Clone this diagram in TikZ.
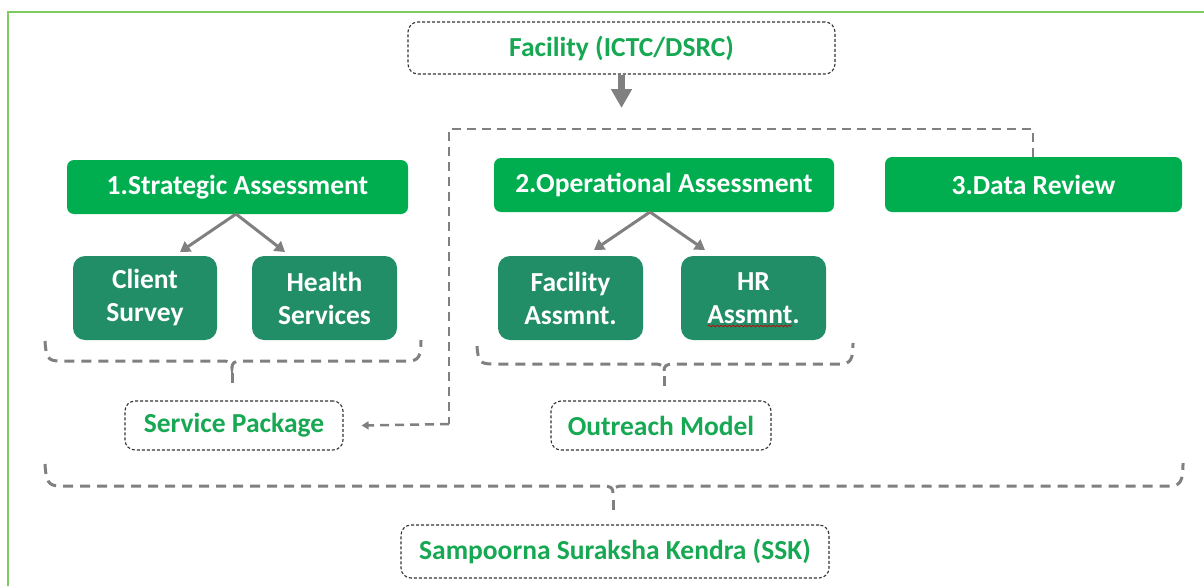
\documentclass[tikz,border=0pt]{standalone}
\usepackage{fontspec}
\setmainfont{Carlito}
\usetikzlibrary{arrows.meta,decorations.pathmorphing}
\definecolor{frameg}{RGB}{125,203,95}
\definecolor{boxg}{RGB}{0,174,80}
\definecolor{darkg}{RGB}{34,142,104}
\definecolor{txtg}{RGB}{22,168,82}
\definecolor{conn}{RGB}{128,128,128}
\tikzset{
  txt/.style={font=\fontsize{27.5}{33}\selectfont\bfseries, align=center, inner sep=0pt},
  mainbox/.style={txt, fill=boxg, text=white, rounded corners=7pt},
  subbox/.style={txt, fill=darkg, text=white, rounded corners=12pt},
  outbox/.style={txt, draw=black!80, line width=1.1pt, dash pattern=on 3pt off 2pt, rounded corners=10pt, text=txtg},
  dline/.style={draw=conn, line width=3pt, dash pattern=on 10pt off 7pt},
  dloop/.style={draw=conn, line width=2.5pt, dash pattern=on 9pt off 6pt},
  solidarrow/.style={draw=conn, line width=3pt, -{Triangle[width=12pt,length=10pt]}},
}
\begin{document}
\begin{tikzpicture}[x=1pt,y=-1pt]
\useasboundingbox (0,0) rectangle (1204,586);
% frame
\draw[frameg, line width=2pt] (8,586) -- (8,12) -- (1204,12);

% nodes
\node[outbox, minimum width=427pt, minimum height=52pt] (fac) at (621.5,48) {Facility (ICTC/DSRC)};
\node[mainbox, minimum width=341pt, minimum height=54pt] (strat) at (237.5,187) {1.Strategic Assessment};
\node[mainbox, minimum width=340pt, minimum height=54pt] (oper) at (664,185) {2.Operational Assessment};
\node[mainbox, minimum width=297pt, minimum height=55pt] (data) at (1033.5,184.5) {3.Data Review};
\node[subbox, minimum width=144pt, minimum height=84pt] (cs) at (145,298) {Client\\Survey};
\node[subbox, minimum width=145pt, minimum height=84pt] (hs) at (324.5,298) {Health\\Services};
\node[subbox, minimum width=145pt, minimum height=84pt] (fa) at (570.5,298) {Facility\\Assmnt.};
\node[subbox, minimum width=145pt, minimum height=84pt] (hr) at (753.5,298) {HR\\Assmnt.};
\node[outbox, minimum width=218pt, minimum height=49pt] (sp) at (234,425.5) {Service Package};
\node[outbox, minimum width=220pt, minimum height=49pt] (om) at (661,425.5) {Outreach Model};
\node[outbox, minimum width=428pt, minimum height=53pt] (ssk) at (615,551.5) {Sampoorna Suraksha Kendra (SSK)};

% spell-check squiggle
\draw[red!80!black, line width=0.7pt, decorate, decoration={snake, segment length=4pt, amplitude=0.9pt}] (708,326) -- (792,326);

% thick arrow
\coordinate (fa1) at (621.5,108);
\draw[conn, line width=7pt, -{Triangle[width=20pt,length=19pt]}] (fac.south) -- (fa1);

% small arrows
\coordinate (s0) at (236,214);
\coordinate (o0) at (650,212);
\draw[solidarrow] (s0) -- (180,252);
\draw[solidarrow] (s0) -- (285,252);
\draw[solidarrow] (o0) -- (594,250);
\draw[solidarrow] (o0) -- (705,250);

% dashed loop from data review to service package
\coordinate (c1) at (1033,129);
\coordinate (c2) at (449,129);
\coordinate (c3) at (449,424);
\draw[dloop] (data.north -| c1) -- (c1) -- (c2) -- (c3);
\draw[dloop, -{Triangle[width=8pt,length=7pt]}] (c3) -- ([xshift=18pt]sp.east);

% brackets
\draw[dline] (45,341) .. controls (46,358) and (48,361) .. (60,361) -- (222,361)
  .. controls (230,361) and (232,363) .. (232,368) .. controls (232,363) and (234,361) .. (242,361)
  -- (408,361) .. controls (419,361) and (421,356) .. (421,340);
\draw[dline] (232,373) -- (232,385);

\draw[dline] (477,346) .. controls (478,361) and (480,364) .. (492,364) -- (654,364)
  .. controls (662,364) and (664,366) .. (664,371) .. controls (664,366) and (666,364) .. (674,364)
  -- (840,364) .. controls (851,364) and (853,359) .. (853,343);
\draw[dline] (664,376) -- (664,386);

\draw[dline] (45,464) .. controls (46,481) and (48,486) .. (60,486) -- (603,486)
  .. controls (611,486) and (613,488) .. (613,493) .. controls (613,488) and (615,486) .. (623,486)
  -- (1170,486) .. controls (1181,486) and (1183,480) .. (1183,463);
\draw[dline] (613,500) -- (613,513);
\end{tikzpicture}
\end{document}
